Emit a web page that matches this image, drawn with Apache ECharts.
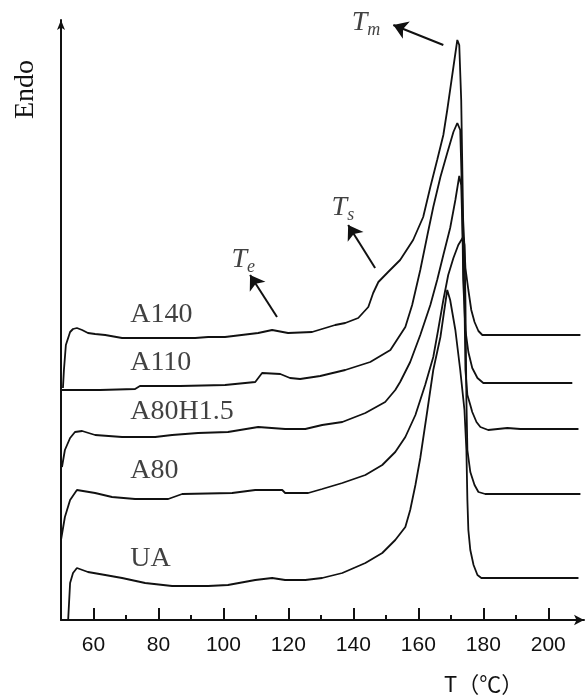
<!DOCTYPE html>
<html>
<head>
<meta charset="utf-8">
<script src="https://cdn.jsdelivr.net/npm/echarts@6/dist/echarts.min.js"></script>
<style>html,body{margin:0;padding:0;background:#fff;}#c{width:588px;height:700px;}</style>
</head>
<body>
<div id="c"></div>
<script>
// DSC heating curves: [temperature (°C), heat flow (a.u., vertically offset)]
const a140 = [[50.6,232],[50.9,250],[51.5,275],[52.8,288],[53.7,291],[54.9,292],[56.5,290],[58.3,287],[60.5,286],[63.6,285],[68.8,282],[74.3,282],[83.0,282],[91.3,282],[95.3,283],[100.5,283],[110.7,287],[115.0,290],[119.9,287],[127.3,288],[134.4,295],[137.5,297],[141.5,302],[144.6,313],[146.1,327],[147.7,338],[150.7,348],[154.4,360],[158.4,380],[161.5,403],[163.7,433],[165.8,460],[167.7,485],[168.9,510],[170.8,553],[172.0,580],[172.6,575],[173.2,520],[173.5,460],[173.8,400],[174.5,352],[175.4,330],[176.3,310],[177.3,298],[178.5,289],[179.7,285],[209.9,285]];
const a110 = [[50.0,230],[62.0,230],[72.8,231],[74.3,234],[86.7,234],[100.5,235],[109.8,238],[111.9,247],[117.5,246],[120.5,242],[123.6,241],[129.8,244],[137.5,250],[145.2,258],[151.4,270],[156.0,293],[158.1,315],[160.6,350],[162.8,385],[164.6,413],[166.8,443],[168.9,467],[170.8,488],[172.0,497],[172.9,490],[173.5,420],[173.8,340],[174.5,290],[175.4,268],[176.6,252],[178.2,242],[180.0,237],[207.4,237]];
const a80h15 = [[50.3,153],[51.2,170],[52.8,182],[54.3,188],[56.5,189],[60.5,185],[68.8,183],[79.0,183],[84.2,185],[92.2,187],[101.4,188],[110.7,193],[119.0,191],[125.2,191],[130.4,195],[136.6,198],[143.7,207],[149.8,218],[152.9,230],[154.4,238],[157.5,258],[160.6,285],[163.7,315],[165.8,340],[167.7,365],[169.8,392],[171.4,420],[172.6,444],[173.2,435],[173.5,400],[174.2,320],[174.5,250],[175.1,225],[176.0,215],[176.6,208],[177.9,198],[179.1,193],[181.5,190],[187.4,192],[191.4,191],[209.3,191]];
const a80 = [[50.0,80],[51.2,103],[52.8,120],[54.9,130],[60.5,127],[65.7,123],[72.8,121],[83.0,121],[87.3,126],[102.7,127],[109.8,130],[118.1,130],[119.0,127],[126.1,127],[130.4,131],[136.6,137],[143.7,145],[148.9,155],[152.9,168],[156.0,183],[159.1,205],[162.1,235],[164.6,263],[166.1,290],[167.7,320],[169.2,345],[170.8,362],[172.3,375],[173.8,383],[174.2,375],[174.5,320],[174.8,220],[175.1,170],[176.0,148],[177.3,135],[178.5,128],[180.6,126],[209.9,126]];
const ua = [[52.2,0],[52.8,37],[53.7,47],[54.9,52],[58.3,48],[63.6,45],[68.8,42],[75.9,37],[84.2,34],[95.3,34],[101.4,35],[109.8,40],[115.0,42],[119.0,40],[125.2,40],[130.4,42],[136.6,47],[143.7,57],[148.9,67],[152.9,80],[156.0,93],[157.5,110],[159.1,135],[160.6,162],[162.8,210],[164.6,250],[166.8,283],[168.0,310],[168.9,330],[169.8,320],[171.4,290],[172.9,250],[174.2,210],[174.8,170],[175.1,120],[175.4,90],[176.0,70],[177.0,55],[178.2,45],[179.4,42],[209.3,42]];

const seriesNames = ['A140','A110','A80H1.5','A80','UA'];
const majorTicks = [60,80,100,120,140,160,180,200];
const minorTicks = [70,90,110,130,150,170,190];

const INK = '#111';
const serif = '"Liberation Serif","Times New Roman",serif';

const chart = echarts.init(document.getElementById('c'), null, {renderer:'canvas'});

function curve(name, data){
  return {
    name: name, type:'line', data: data, showSymbol:false, symbol:'none',
    lineStyle:{color:INK, width:1.8}, xAxisIndex:0, yAxisIndex:0, silent:true, clip:false
  };
}

const rich = {
  t:{fontFamily:serif, fontStyle:'italic', fontSize:28, color:INK, lineHeight:28},
  s:{fontFamily:serif, fontStyle:'italic', fontSize:18, color:INK, verticalAlign:'bottom', padding:[14,0,0,0]}
};

function textPoint(v, text, isRich){
  return {
    value: v,
    label:{show:true, position:'inside', align:'left', verticalAlign:'middle',
      formatter:text, fontFamily:serif, fontSize:28, color:INK, rich: isRich ? rich : undefined}
  };
}

const option = {
  animation:false,
  backgroundColor:'#fff',
  grid:{left:61, right:4, top:20, bottom:80, containLabel:false},
  xAxis:[{
    type:'value', min:50, max:211,
    axisLine:{show:true, lineStyle:{color:INK, width:2}, symbol:['none','arrow'], symbolSize:[8,10]},
    axisTick:{show:true, inside:true, length:12, customValues:majorTicks, lineStyle:{color:INK, width:2}},
    axisLabel:{show:true, customValues:majorTicks, margin:15, color:INK,
      fontFamily:'"Liberation Sans Narrow","Liberation Sans",sans-serif', fontSize:21},
    splitLine:{show:false}
  },{
    type:'value', min:50, max:211, position:'bottom',
    axisLine:{show:false},
    axisTick:{show:true, inside:true, length:5, customValues:minorTicks, lineStyle:{color:INK, width:2}},
    axisLabel:{show:false},
    splitLine:{show:false}
  }],
  yAxis:{
    type:'value', min:0, max:600,
    axisLine:{show:true, lineStyle:{color:INK, width:2}, symbol:['none','arrow'], symbolSize:[6,10]},
    axisTick:{show:false}, axisLabel:{show:false}, splitLine:{show:false}
  },
  series:[
    curve(seriesNames[0], a140),
    curve(seriesNames[1], a110),
    curve(seriesNames[2], a80h15),
    curve(seriesNames[3], a80),
    curve(seriesNames[4], ua),
    {
      type:'scatter', symbolSize:0, silent:true, clip:false,
      data:[
        textPoint([71.3,305], seriesNames[0]),
        textPoint([71.3,257], seriesNames[1]),
        textPoint([71.3,208], seriesNames[2]),
        textPoint([71.3,149], seriesNames[3]),
        textPoint([71.3,61], seriesNames[4]),
        textPoint([139.5,597], '{t|T}{s|m}', true),
        textPoint([133.3,412], '{t|T}{s|s}', true),
        textPoint([102.5,360], '{t|T}{s|e}', true)
      ],
      markLine:{
        silent:true, symbol:['none','arrow'], symbolSize:14, animation:false,
        label:{show:false},
        lineStyle:{color:INK, width:2, type:'solid'},
        data:[
          [{coord:[167.7,575]},{coord:[152.3,595]}],
          [{coord:[146.7,352]},{coord:[138.4,395]}],
          [{coord:[116.5,303]},{coord:[108.2,345]}]
        ]
      }
    }
  ],
  graphic:[
    {type:'text', left:12, top:60, rotation:Math.PI/2, originX:0, originY:0,
      style:{text:'Endo', font:'28px "Liberation Serif", serif', fill:INK}},
    {type:'text', left:444, top:673,
      style:{text:'T（℃）', font:'22px "Noto Sans CJK SC", sans-serif', fill:INK}}
  ]
};
chart.setOption(option);
</script>
</body>
</html>
